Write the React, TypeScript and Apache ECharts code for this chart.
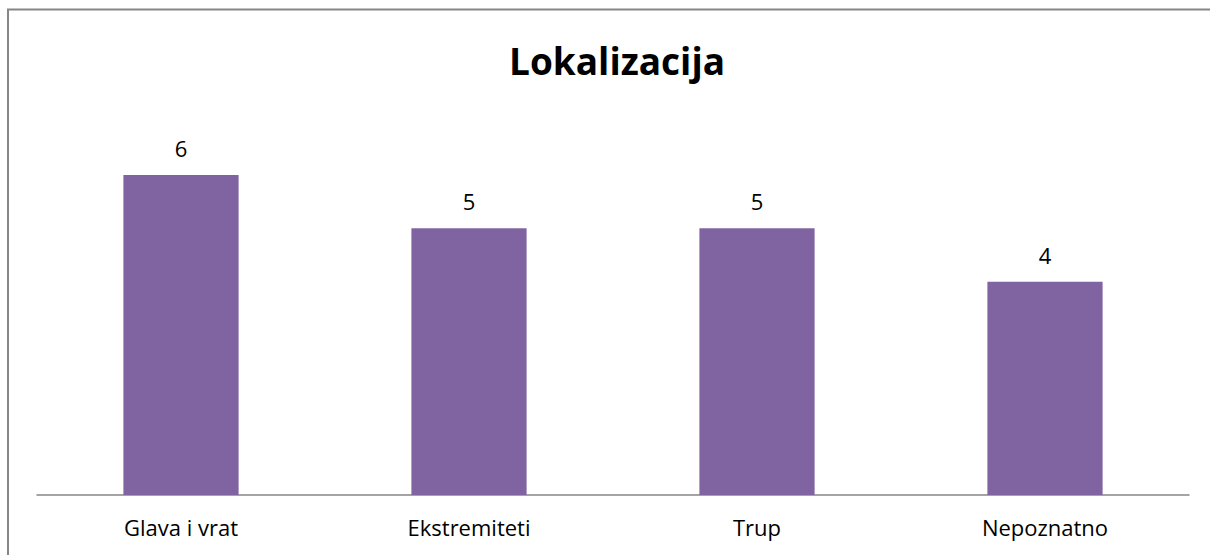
import React, { useEffect, useRef } from "react";
import * as echarts from "echarts";

const categories = ["Glava i vrat", "Ekstremiteti", "Trup", "Nepoznatno"];
const values = [6, 5, 5, 4];
const titleText = "Lokalizacija";

export default function App() {
  const ref = useRef<HTMLDivElement>(null);
  useEffect(() => {
    if (!ref.current) return;
    const chart = echarts.init(ref.current, null, { renderer: "svg" });
    chart.setOption({
      animation: false,
      backgroundColor: "#ffffff",
      title: {
        text: titleText,
        left: 612,
        textAlign: "center",
        top: 37,
        textStyle: {
          fontFamily: "Open Sans",
          fontWeight: "bold",
          fontSize: 37,
          color: "#000000",
        },
      },
      graphic: [
        {
          type: "line",
          shape: { x1: 7, y1: 9.5, x2: 1210, y2: 9.5 },
          style: { stroke: "#868686", lineWidth: 2 },
        },
        {
          type: "line",
          shape: { x1: 8, y1: 9, x2: 8, y2: 555 },
          style: { stroke: "#868686", lineWidth: 2 },
        },
      ],
      grid: { left: 37, right: 21, top: 175, bottom: 60 },
      xAxis: {
        type: "category",
        data: categories,
        axisLine: { lineStyle: { color: "#868686", width: 1.5 } },
        axisTick: { show: false },
        axisLabel: {
          fontFamily: "Open Sans",
          fontSize: 22,
          color: "#000000",
          margin: 21,
        },
      },
      yAxis: {
        type: "value",
        min: 0,
        max: 6,
        show: false,
        splitLine: { show: false },
      },
      series: [
        {
          type: "bar",
          data: values,
          barWidth: "40%",
          itemStyle: { color: "#8064A2" },
          label: {
            show: true,
            position: "top",
            distance: 16,
            fontFamily: "Open Sans",
            fontSize: 22,
            color: "#000000",
          },
        },
      ],
    });
    return () => chart.dispose();
  }, []);
  return (
    <div
      ref={ref}
      style={{ position: "absolute", left: 0, top: 0, width: 1210, height: 555 }}
    />
  );
}
